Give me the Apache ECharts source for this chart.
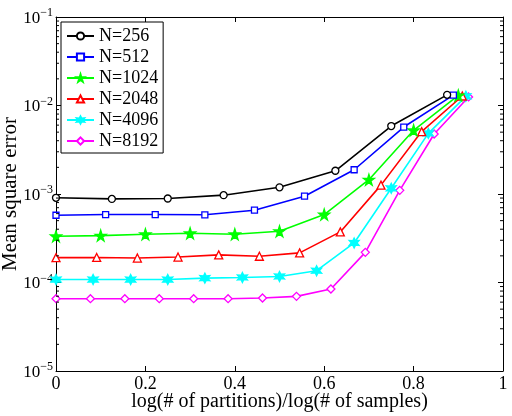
<!DOCTYPE html>
<html>
<head>
<meta charset="utf-8">
<script src="https://cdn.jsdelivr.net/npm/echarts@6/dist/echarts.min.js"></script>
<style>
html,body{margin:0;padding:0;background:#fff;}
#c{width:512px;height:416px;}
</style>
</head>
<body>
<div id="c"></div>
<script>
// ---- data ----
var seriesNames = ['N=256', 'N=512', 'N=1024', 'N=2048', 'N=4096', 'N=8192'];
var x256 = [0, 0.125, 0.25, 0.375, 0.5, 0.625, 0.75, 0.875];
var y256 = [9.06e-4, 8.8e-4, 8.9e-4, 9.7e-4, 1.19e-3, 1.83e-3, 5.86e-3, 1.32e-2];
var x512 = [0, 0.111, 0.222, 0.333, 0.444, 0.556, 0.667, 0.778, 0.889];
var y512 = [5.75e-4, 5.86e-4, 5.86e-4, 5.82e-4, 6.56e-4, 9.44e-4, 1.88e-3, 5.71e-3, 1.31e-2];
var x1024 = [0, 0.1, 0.2, 0.3, 0.4, 0.5, 0.6, 0.7, 0.8, 0.9];
var y1024 = [3.33e-4, 3.39e-4, 3.51e-4, 3.60e-4, 3.51e-4, 3.80e-4, 5.86e-4, 1.45e-3, 5.25e-3, 1.30e-2];
var x2048 = [0, 0.091, 0.182, 0.273, 0.364, 0.455, 0.545, 0.636, 0.727, 0.818, 0.909];
var y2048 = [1.91e-4, 1.92e-4, 1.89e-4, 1.94e-4, 2.05e-4, 1.98e-4, 2.16e-4, 3.73e-4, 1.26e-3, 5.07e-3, 1.28e-2];
var x4096 = [0, 0.083, 0.167, 0.25, 0.333, 0.417, 0.5, 0.583, 0.667, 0.75, 0.833, 0.917];
var y4096 = [1.08e-4, 1.08e-4, 1.08e-4, 1.08e-4, 1.12e-4, 1.14e-4, 1.17e-4, 1.36e-4, 2.80e-4, 1.16e-3, 4.84e-3, 1.27e-2];
var x8192 = [0, 0.077, 0.154, 0.231, 0.308, 0.385, 0.462, 0.538, 0.615, 0.692, 0.769, 0.846, 0.923];
var y8192 = [6.56e-5, 6.56e-5, 6.56e-5, 6.56e-5, 6.56e-5, 6.56e-5, 6.68e-5, 6.97e-5, 8.44e-5, 2.19e-4, 1.10e-3, 4.76e-3, 1.25e-2];
var xTicks = [0, 0.2, 0.4, 0.6, 0.8, 1];
var yTickExps = [-5, -4, -3, -2, -1];
var yMinorTicks = [2e-5,3e-5,4e-5,5e-5,6e-5,7e-5,8e-5,9e-5,
                   2e-4,3e-4,4e-4,5e-4,6e-4,7e-4,8e-4,9e-4,
                   2e-3,3e-3,4e-3,5e-3,6e-3,7e-3,8e-3,9e-3,
                   2e-2,3e-2,4e-2,5e-2,6e-2,7e-2,8e-2,9e-2];
var xTitle = 'log(# of partitions)/log(# of samples)';
var yTitle = 'Mean square error';

// ---- styles ----
var FONT = '"Liberation Serif", "Times New Roman", serif';
var colors = ['#000000', '#0000ff', '#00ff00', '#ff0000', '#00ffff', '#ff00ff'];
var STAR5 = 'path://M50,0 L61,35 L98,35 L68,57 L79,91 L50,70 L21,91 L32,57 L2,35 L39,35 Z';
var STAR6 = 'path://M50,0 L62,28 L93,25 L75,50 L93,75 L62,72 L50,100 L38,72 L7,75 L25,50 L7,25 L38,28 Z';
var symbols = ['circle', 'rect', STAR5, 'triangle', STAR6, 'diamond'];
var symSizes = [7, 6, 11, 8, 10, 8];
var hollow = [true, true, false, true, false, true];
var xsAll = [x256, x512, x1024, x2048, x4096, x8192];
var ysAll = [y256, y512, y1024, y2048, y4096, y8192];

var chart = echarts.init(document.getElementById('c'), null, {renderer: 'canvas'});

var series = seriesNames.map(function (name, i) {
  return {
    name: name,
    type: 'line',
    xAxisIndex: 0,
    yAxisIndex: 0,
    data: xsAll[i].map(function (x, j) { return [x, ysAll[i][j]]; }),
    symbol: symbols[i],
    symbolSize: symSizes[i],
    showAllSymbol: true,
    animation: false,
    lineStyle: {color: colors[i], width: 1.6},
    itemStyle: {
      color: hollow[i] ? '#ffffff' : colors[i],
      borderColor: colors[i],
      borderWidth: 1.3
    },
    z: 10 - i
  };
});

// minor log ticks on left and right sides, placed through the axis scale
series.push({
  name: 'minorTicks',
  type: 'custom',
  xAxisIndex: 0,
  yAxisIndex: 0,
  silent: true,
  animation: false,
  clip: false,
  data: yMinorTicks.map(function (v) { return [0, v]; }),
  renderItem: function (params, api) {
    var v = api.value(1);
    var pL = api.coord([0, v]);
    var pR = api.coord([1, v]);
    var st = {stroke: '#000', lineWidth: 1};
    return {
      type: 'group',
      children: [
        {type: 'line', shape: {x1: pL[0], y1: pL[1], x2: pL[0] + 3, y2: pL[1]}, style: st},
        {type: 'line', shape: {x1: pR[0], y1: pR[1], x2: pR[0] - 3, y2: pR[1]}, style: st}
      ]
    };
  },
  z: 20
});

function yLabel(v) {
  var e = Math.round(Math.log10(v));
  if (yTickExps.indexOf(e) < 0) return '';
  return '{b|10}{s|\u2212' + Math.abs(e) + '}';
}

var option = {
  backgroundColor: '#ffffff',
  animation: false,
  textStyle: {fontFamily: FONT},
  grid: {left: 56, right: 9, top: 17, bottom: 45, containLabel: false, outerBoundsMode: 'none'},
  legend: {
    data: seriesNames,
    orient: 'vertical',
    left: 61,
    top: 22,
    itemWidth: 27,
    itemHeight: 9,
    itemGap: 3,
    padding: [5, 5, 3, 5],
    borderColor: '#000',
    borderWidth: 1,
    backgroundColor: '#fff',
    selectedMode: false,
    textStyle: {fontFamily: FONT, fontSize: 18, color: '#000'}
  },
  xAxis: [{
    type: 'value', min: 0, max: 1, interval: 0.2, position: 'bottom',
    name: xTitle, nameLocation: 'middle', nameGap: 21, nameMoveOverlap: false,
    nameTextStyle: {fontFamily: FONT, fontSize: 20, color: '#000'},
    axisLine: {show: true, onZero: false, lineStyle: {color: '#000', width: 1}},
    axisTick: {show: true, inside: true, length: 5, lineStyle: {color: '#000'}},
    axisLabel: {
      margin: 4, color: '#000', fontFamily: FONT, fontSize: 18,
      formatter: function (v) { return xTicks.indexOf(Math.round(v * 10) / 10) >= 0 ? String(Math.round(v * 10) / 10) : ''; }
    },
    splitLine: {show: false}
  }, {
    type: 'value', min: 0, max: 1, interval: 0.2, position: 'top',
    axisLine: {show: true, onZero: false, lineStyle: {color: '#000', width: 1}},
    axisTick: {show: true, inside: true, length: 5, lineStyle: {color: '#000'}},
    axisLabel: {show: false},
    splitLine: {show: false}
  }],
  yAxis: [{
    type: 'log', logBase: 10, min: 1e-5, max: 1e-1, position: 'left',
    name: yTitle, nameLocation: 'middle', nameGap: 35, nameRotate: 90, nameMoveOverlap: false,
    nameTextStyle: {fontFamily: FONT, fontSize: 21, color: '#000'},
    axisLine: {show: true, onZero: false, lineStyle: {color: '#000', width: 1}},
    axisTick: {show: true, inside: true, length: 5, lineStyle: {color: '#000'}},
    axisLabel: {
      margin: 3, color: '#000',
      formatter: yLabel,
      rich: {
        b: {fontFamily: FONT, fontSize: 17, color: '#000', lineHeight: 20, verticalAlign: 'bottom'},
        s: {fontFamily: FONT, fontSize: 12, color: '#000', lineHeight: 12, verticalAlign: 'top'}
      }
    },
    splitLine: {show: false}
  }, {
    type: 'log', logBase: 10, min: 1e-5, max: 1e-1, position: 'right',
    axisLine: {show: true, onZero: false, lineStyle: {color: '#000', width: 1}},
    axisTick: {show: true, inside: true, length: 5, lineStyle: {color: '#000'}},
    axisLabel: {show: false},
    splitLine: {show: false}
  }],
  series: series
};
chart.setOption(option);
</script>
</body>
</html>
